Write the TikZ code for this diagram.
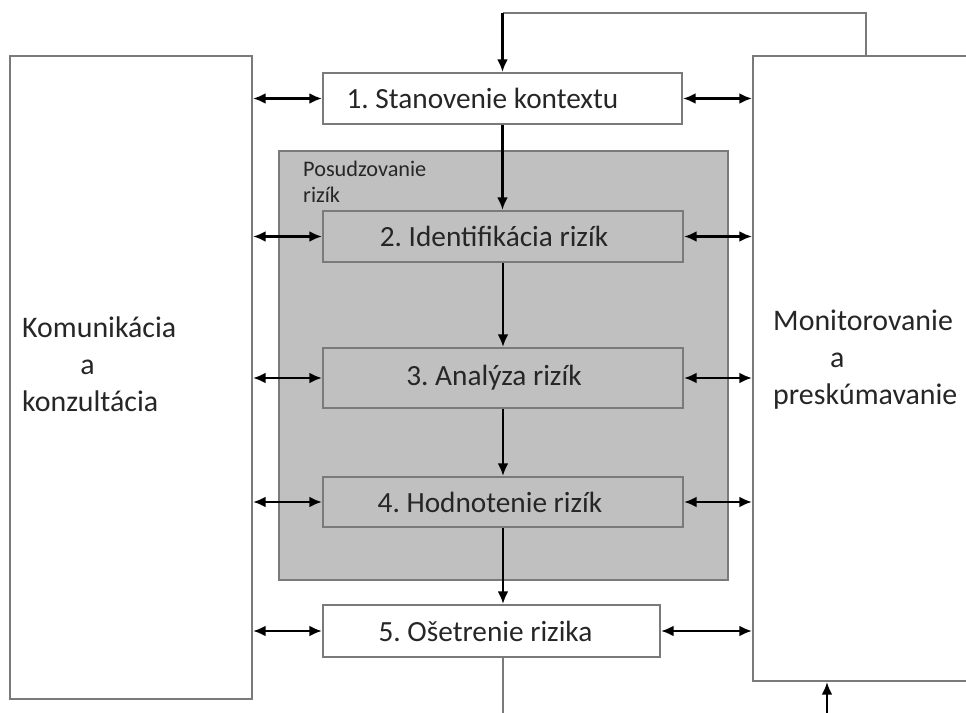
\documentclass[tikz,border=0pt]{standalone}
\usepackage{fontspec}
\setmainfont{Carlito}
\usepackage{tikz}
\usetikzlibrary{arrows.meta}
\definecolor{linegray}{HTML}{7A7A7A}
\definecolor{fillgray}{HTML}{C0C0C0}
\definecolor{textgray}{HTML}{262626}
\frenchspacing

\begin{document}
\begin{tikzpicture}[x=0.03cm, y=-0.03cm, >={Latex[length=0.38cm,width=0.32cm]},
box_style/.style={rectangle,draw=linegray,line width=1.5pt,inner sep=0pt,text=textgray,font=\fontsize{25}{30}\selectfont},
white_box/.style={box_style,fill=white},
gray_box/.style={box_style,fill=fillgray},
label_style/.style={inner sep=0pt,align=left,text=textgray,font=\fontsize{25.5}{31.6}\selectfont},
line_style/.style={draw=linegray, line width=1.5pt},
arrow_style/.style={draw=black, line width=2pt}]
\useasboundingbox (0,0) rectangle (966,713);
\clip (0,0) rectangle (966,713);

\node[gray_box, minimum width=13.47cm, minimum height=12.87cm] (assess) at (503.5,365.5) {};
\node[label_style, anchor=north west, font=\fontsize{19}{22}\selectfont] (assess_label) at (303,161) {Posudzovanie\\rizík};

\node[white_box, minimum width=7.26cm, minimum height=19.29cm] (komun) at (131,377.5) {};
\node[white_box, minimum width=7.71cm, minimum height=18.75cm] (monitor) at (881.5,368.5) {};
\node[label_style, anchor=west] (komun_label) at (22,364) {Komunikácia\\\hspace*{1.95em}a\\konzultácia};
\node[label_style, anchor=west] (monitor_label) at (773,360) {Monitorovanie\\\hspace*{1.9em}a\\preskúmavanie};

\node[white_box, minimum width=10.77cm, minimum height=1.53cm] (box1) at (502.5,98.5) {1. Stanovenie kontextu\hspace*{1.2cm}};
\node[gray_box, minimum width=10.8cm, minimum height=1.53cm] (box2) at (503,236.5) {2. Identifikácia rizík\hspace*{0.54cm}};
\node[gray_box, minimum width=10.8cm, minimum height=1.8cm] (box3) at (503,378) {3. Analýza rizík\hspace*{0.54cm}};
\node[gray_box, minimum width=10.8cm, minimum height=1.5cm] (box4) at (503,502) {4. Hodnotenie rizík\hspace*{0.78cm}};
\node[white_box, minimum width=10.11cm, minimum height=1.56cm] (box5) at (491.5,631) {5. Ošetrenie rizika\hspace*{0.36cm}};

\coordinate (loop_top) at (866,13);
\coordinate (loop_bot) at (827,713);

% feedback loop
\draw[line_style] (monitor.north -| loop_top) -- (loop_top) -- (box1.north |- loop_top);
\draw[arrow_style,->] (box1.north |- loop_top) -- (box1.north);
\draw[line_style] (box4.south |- box5.south) -- (box4.south |- loop_bot);
\draw[arrow_style,->] (loop_bot) -- (loop_bot |- monitor.south);

% process flow
\draw[arrow_style,->] (box1.south) -- (box1.south |- box2.north);
\draw[arrow_style,->] (box2.south) -- (box2.south |- box3.north);
\draw[arrow_style,->] (box3.south) -- (box3.south |- box4.north);
\draw[arrow_style,->] (box4.south) -- (box4.south |- box5.north);

% side links
\foreach \b in {box1,box2,box3,box4,box5}{
  \draw[arrow_style,<->] (\b.west -| komun.east) -- (\b.west);
  \draw[arrow_style,<->] (\b.east) -- (\b.east -| monitor.west);
}

\end{tikzpicture}
\end{document}
